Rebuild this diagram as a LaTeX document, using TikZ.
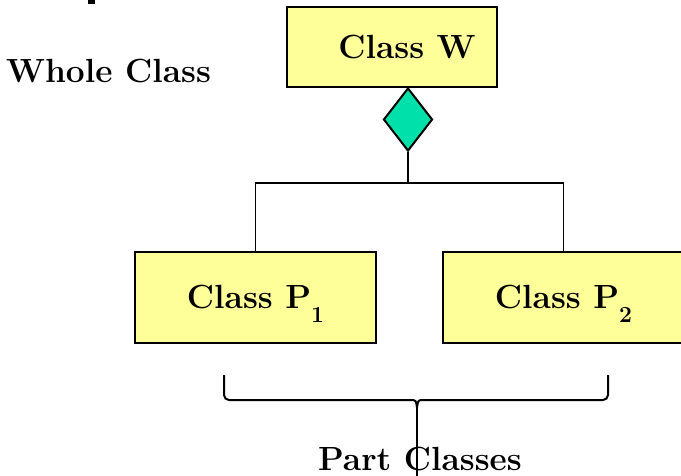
\documentclass[tikz,border=0pt]{standalone}
\usetikzlibrary{shapes.geometric,positioning}
\definecolor{clsfill}{HTML}{FFFF99}
\definecolor{aggfill}{HTML}{00E0AA}
\newcommand{\partidx}[1]{\raisebox{-14pt}[0pt][0pt]{\fontsize{23}{23}\selectfont #1}}
\tikzset{
  clsbox/.style={draw=black, line width=2.4pt, fill=clsfill, inner sep=0pt,
                 minimum height=91pt, minimum width=241pt,
                 font=\fontsize{33.5}{36}\selectfont\bfseries},
  aggdia/.style={diamond, draw=black, line width=2pt, fill=aggfill, inner sep=0pt,
                 minimum width=49pt, minimum height=63pt},
  lbl/.style={font=\fontsize{33.5}{36}\selectfont\bfseries, inner sep=0pt},
  link/.style={line width=1.8pt},
  bracket/.style={line width=2pt, rounded corners=5pt}}
\begin{document}
\begin{tikzpicture}[x=1pt, y=-1pt]
  \useasboundingbox (0,0) rectangle (681,476);
  \fill (88,0) rectangle (95,4);
  % whole class
  \node[clsbox, minimum width=210pt, minimum height=80pt] (cw) at (392,47) {\hspace*{30pt}Class W};
  \node[lbl, anchor=base] (wlbl) at (108.5,83) {Whole Class};
  \node[aggdia] (agg) at (408,119.5) {};
  % part classes
  \node[clsbox] (p1) at (255.5,297.5) {Class P\partidx{1}};
  \node[clsbox] (p2) at (563.5,297.5) {Class P\partidx{2}};
  \coordinate (jn) at (408,183);
  \draw[link] (agg.south) -- (jn);
  \draw[link] (p1.north) |- (jn) -| (p2.north);
  % brace
  \coordinate (bl) at (224,375);
  \coordinate (br) at (608,375);
  \coordinate (tip) at (417,408);
  \coordinate (bot) at (417,476);
  \draw[bracket] (bl) -- (224,400) -- (410,400);
  \draw[bracket] (br) -- (608,400) -- (424,400);
  \draw[line width=2pt] (410,400) .. controls (416,400) .. (tip);
  \draw[line width=2pt] (424,400) .. controls (418,400) .. (tip);
  \draw[line width=1.6pt] (tip) -- (bot);
  \node[lbl, anchor=base] (plbl) at (420,470) {Part Classes};
\end{tikzpicture}
\end{document}
